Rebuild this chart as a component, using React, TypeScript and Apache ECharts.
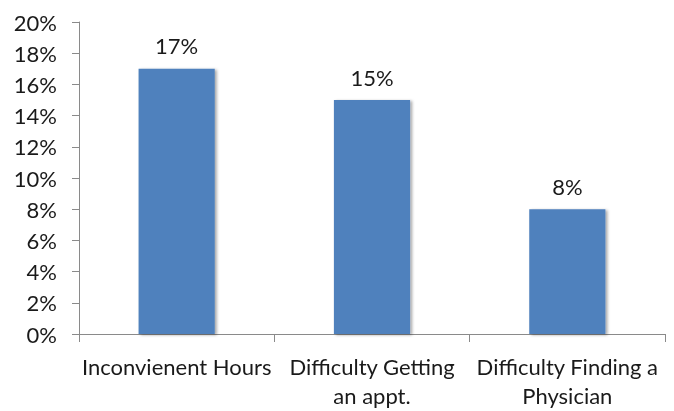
import React, { useEffect, useRef } from "react";
import * as echarts from "echarts";

const categories = [
  "Inconvienent Hours",
  "Difficulty Getting\nan appt.",
  "Difficulty Finding a\nPhysician",
];
const values = [17, 15, 8];
const yTicks = { min: 0, max: 20, interval: 2 };

const FONT = "Lato, 'Open Sans', sans-serif";

export default function App() {
  const ref = useRef<HTMLDivElement>(null);
  useEffect(() => {
    if (!ref.current) return;
    const chart = echarts.init(ref.current, null, { renderer: "svg" });
    chart.setOption({
      animation: false,
      grid: { left: 79, right: 9, top: 22, bottom: 77, containLabel: false },
      xAxis: {
        type: "category",
        data: categories,
        axisLine: { show: true, lineStyle: { color: "#8a8a8a", width: 1 } },
        axisTick: { show: true, length: 8, lineStyle: { color: "#8a8a8a" } },
        axisLabel: {
          color: "#1a1a1a",
          fontFamily: FONT,
          fontSize: 22,
          margin: 18,
          lineHeight: 29,
          interval: 0,
        },
      },
      yAxis: {
        type: "value",
        min: yTicks.min,
        max: yTicks.max,
        interval: yTicks.interval,
        splitLine: { show: false },
        axisLine: { show: true, lineStyle: { color: "#8a8a8a", width: 1 } },
        axisTick: { show: true, length: 7, lineStyle: { color: "#8a8a8a" } },
        axisLabel: {
          color: "#1a1a1a",
          fontFamily: FONT,
          fontSize: 22,
          margin: 22,
          formatter: (v: number) => `${v}%`,
        },
      },
      series: [
        {
          type: "bar",
          data: values,
          barWidth: "39%",
          itemStyle: {
            color: "#4f81bd",
            shadowColor: "rgba(0,0,0,0.35)",
            shadowBlur: 3,
            shadowOffsetX: 2,
            shadowOffsetY: 1,
          },
          label: {
            show: true,
            position: "top",
            distance: 12,
            color: "#1a1a1a",
            fontFamily: FONT,
            fontSize: 22,
            formatter: (p: any) => `${p.value}%`,
          },
        },
      ],
    });
    return () => chart.dispose();
  }, []);
  return (
    <div
      ref={ref}
      style={{ position: "fixed", left: 0, top: 0, width: 674, height: 411 }}
    />
  );
}
